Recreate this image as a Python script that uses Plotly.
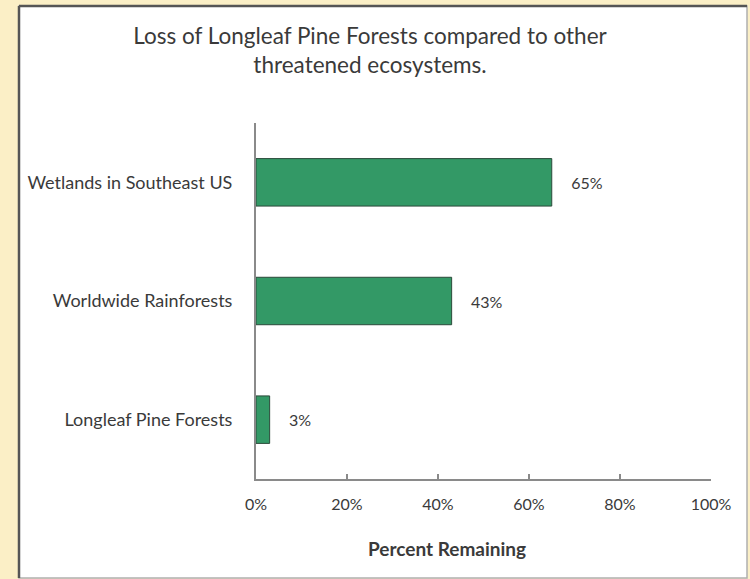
import plotly.graph_objects as go

categories = ["Longleaf Pine Forests", "Worldwide Rainforests", "Wetlands in Southeast US"]
values = [3, 43, 65]
value_labels = ["3%", "43%", "65%"]
x_tick_vals = [0, 20, 40, 60, 80, 100]
x_tick_text = ["0%", "20%", "40%", "60%", "80%", "100%"]

FONT = "Lato"
TXT = "#3a3a3a"

W, H = 750, 579
L, R, T, B = 256, 39, 123, 100
pw = W - L - R
ph = H - T - B

def px_to_paper_x(px):
    return (px - L) / pw

def px_to_paper_y(py):
    return (H - B - py) / ph

fig = go.Figure()
fig.add_trace(go.Bar(
    y=categories,
    x=values,
    orientation="h",
    marker=dict(color="#339966", line=dict(color="#2b4a3a", width=1)),
    text=["    " + t for t in value_labels],
    textposition="outside",
    textfont=dict(family=FONT, size=16, color=TXT),
    cliponaxis=False,
    width=0.4,
))

fig.update_layout(
    width=W, height=H,
    margin=dict(l=L, r=R, t=T, b=B, pad=0, autoexpand=False),
    paper_bgcolor="#fbefc6",
    plot_bgcolor="rgba(0,0,0,0)",
    showlegend=False,
    title=dict(
        text="Loss of Longleaf Pine Forests compared to other<br>threatened ecosystems.",
        font=dict(family=FONT, size=22.5, color=TXT),
        x=370 / W, xanchor="center", xref="container",
        y=1 - 44 / H, yanchor="top", yref="container",
    ),
    xaxis=dict(
        range=[0, 100],
        tickvals=x_tick_vals,
        ticktext=x_tick_text,
        ticks="inside", ticklen=5, tickcolor="#8a8a8a", tickwidth=1.5,
        showline=True, linecolor="#8a8a8a", linewidth=2,
        showgrid=False, zeroline=False,
        tickfont=dict(family=FONT, size=16, color=TXT),
        ticklabelstandoff=10,
        automargin=False,
        fixedrange=True,
    ),
    yaxis=dict(
        showline=True, linecolor="#8a8a8a", linewidth=2,
        showgrid=False, zeroline=False, ticks="",
        tickfont=dict(family=FONT, size=18, color=TXT),
        ticklabelstandoff=18,
        range=[-0.5, 2.5],
        automargin=False,
        fixedrange=True,
    ),
    bargap=0.6,
    annotations=[
        dict(text="<b>Percent Remaining</b>", xref="paper", yref="paper",
             x=px_to_paper_x(447), y=px_to_paper_y(548),
             xanchor="center", yanchor="middle", showarrow=False,
             font=dict(family=FONT, size=19, color=TXT)),
    ],
    shapes=[
        dict(type="rect", xref="paper", yref="paper", layer="below",
             x0=px_to_paper_x(19), x1=px_to_paper_x(747),
             y0=px_to_paper_y(578), y1=px_to_paper_y(6),
             fillcolor="white", line=dict(color="#b0b0b0", width=1.5)),
        dict(type="line", xref="paper", yref="paper", layer="below",
             x0=px_to_paper_x(19), x1=px_to_paper_x(19),
             y0=px_to_paper_y(578), y1=px_to_paper_y(6),
             line=dict(color="#555555", width=2.5)),
        dict(type="line", xref="paper", yref="paper", layer="below",
             x0=px_to_paper_x(19), x1=px_to_paper_x(747),
             y0=px_to_paper_y(6), y1=px_to_paper_y(6),
             line=dict(color="#555555", width=2.5)),
    ],
)

fig.write_html(
    "out.html",
    config={"displayModeBar": False, "staticPlot": True},
    post_script="document.body.style.margin='0';document.body.style.padding='0';document.body.style.overflow='hidden';",
)
